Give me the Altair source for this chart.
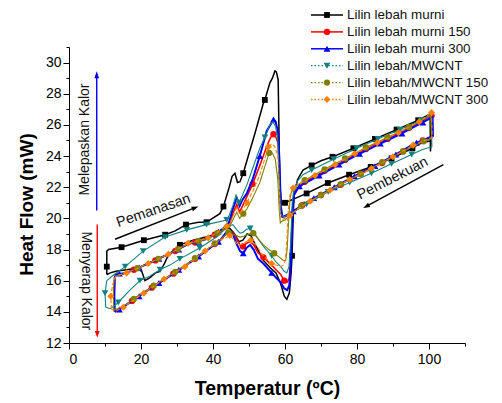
import altair as alt
import pandas as pd

# ---------------- data ----------------
x_ticks = [0, 10, 20, 30, 40, 50, 60, 70, 80, 90, 100, 110]
y_ticks = [12, 13, 14, 15, 16, 17, 18, 19, 20, 21, 22, 23, 24, 25, 26, 27, 28, 29, 30, 31]

names = ["Lilin lebah murni", "Lilin lebah murni 150", "Lilin lebah murni 300",
         "Lilin lebah/MWCNT", "Lilin lebah/MWCNT 150", "Lilin lebah/MWCNT 300"]

black_path = [(10.5,16.4),(11.5,16.5),(13,16.6),(16,16.7),(18.8,16.8),(20.2,16.6),(21.1,16.0),(22.5,16.2),
    (24,16.5),(25.3,16.6),(26.5,17.1),(27.6,17.65),(30.8,18.3),(34.5,18.6),(38,18.8),(41,19.0),(43,19.3),
    (44.5,19.4),(46,19.0),(47.2,18.5),(48.3,18.6),(49.5,19.0),(50.5,18.9),(52,18.2),(54,17.3),(56,16.8),
    (57.5,16.5),(58.8,15.8),(59.8,15.0),(60.5,14.8),(61.2,15.2),(61.7,16.5),(61.95,17.6),(62.2,19.5),
    (62.5,21.5),(63.5,22.5),(65,23.1),(67.4,23.4),(70,23.7),(73.2,23.95),(79,24.5),(85,25.1),(91,25.7),
    (97,26.3),(100.3,26.7),(100.4,24.3),(100.6,25.0),(97,24.75),(95.4,24.5),(89.6,23.85),(83.8,23.3),
    (77.8,22.8),(71.9,22.27),(66,21.6),(63,21.3),(60,21.0),(59,20.9),(58.5,22.5),(58.3,26.0),(58.1,28.9),
    (57.6,29.4),(57.2,29.46),(56.5,29.0),(55.8,28.7),(54.4,27.6),(54,27.4),(51.7,25.5),(49.8,24.0),
    (48.4,22.9),(47.5,22.35),(46.8,22.3),(46.1,22.9),(45.3,22.7),(44.5,22.0),(42.9,20.76),(41.9,20.3),
    (39.2,19.9),(38.2,19.75),(36,19.75),(32.5,19.6),(29.5,19.2),(26.7,18.95),(20.8,18.6),(14.6,18.15),
    (11,18.0),(10.5,17.9),(10.5,16.4)]
black_marks = [(10.5,16.9),(14.6,18.15),(20.8,18.6),(26.7,18.95),(32.5,19.6),(38.2,19.75),(42.9,20.76),
    (48.4,22.9),(54.4,27.6),(30.8,18.3),(60,21.0),(61.95,17.6),(67.4,23.4),(73.2,23.95),(79,24.5),
    (85,25.1),(91,25.7),(97,26.3),(66,21.6),(71.9,22.27),(77.8,22.8),(83.8,23.3),(89.6,23.85),(95.4,24.5)]

red_path = [(12.7,14.0),(15,14.3),(20,15.1),(26,16.0),(32,16.9),(38,17.9),(42,18.6),(44,19.1),(45.5,19.1),
    (46.5,18.7),(47.5,18.3),(48.3,18.2),(49.3,18.4),(50.3,18.5),(51.3,18.3),(52.5,17.8),(54,17.5),(56.3,17.0),
    (57.5,16.7),(58.8,16.4),(59.8,16.0),(60.6,15.9),(61.2,16.2),(61.7,18.0),(62.1,20.5),(62.5,21.5),
    (63.5,21.95),(65,22.3),(68.3,22.7),(73.9,23.4),(79.4,24.1),(85.6,24.8),(91.5,25.45),(97.3,26.15),
    (100.7,26.6),(100.9,25.2),(95.6,24.7),(90,23.95),(84,23.2),(78,22.5),(72.5,21.8),(67,21.1),(63.5,20.6),
    (61.5,20.3),(60,20.1),(59.2,20.1),(58.9,20.5),(58.5,22.5),(58.1,24.8),(57.5,25.2),(56.8,25.4),(56,25.2),
    (54.9,24.6),(53,23.4),(51,22.2),(49.4,21.4),(48.4,20.9),(47.4,20.4),(46.6,20.9),(45.5,20.3),(44.5,19.6),
    (43.8,19.45),(38.7,18.75),(33.1,18.35),(27.6,17.7),(22,17.1),(16,16.5),(13,16.35),(12.7,16.1),
    (12.5,15.0),(12.7,14.0)]
red_marks = [(18,16.7),(24,17.3),(29.5,17.9),(35,18.45),(40.5,18.95),(17.5,14.7),(23,15.55),(29,16.45),
    (35,17.4),(40.5,18.35),(48.3,18.2),(54,17.5),(59.8,16.0),(56.8,25.4),(51,22.2),(65.5,22.35),(71,23.05),
    (76.7,23.75),(82.5,24.45),(88.5,25.1),(94.4,25.8),(100.7,26.6),(64.8,20.85),(70,21.5),(75.5,22.15),
    (81,22.85),(87,23.55),(92.8,24.3),(98.3,25.0)]

blue_path = [(12.7,14.0),(15,14.3),(20,15.1),(26,16.0),(32,16.9),(38,17.9),(42,18.6),(44,19.2),(45.5,19.0),
    (46.5,18.4),(47.5,17.9),(48.4,17.76),(49.3,18.1),(50.3,18.3),(51.3,18.0),(52.5,17.4),(54,17.1),(56.3,16.5),
    (57.5,16.2),(58.8,15.9),(59.8,15.5),(60.6,15.4),(61.2,15.7),(61.7,17.5),(62.1,20.5),(62.5,21.5),
    (63.5,21.9),(65,22.2),(68.3,22.6),(73.9,23.3),(79.4,24.0),(85.6,24.7),(91.5,25.35),(97.3,26.05),
    (101,26.5),(101.1,25.3),(95.6,24.75),(90,24.0),(84,23.25),(78,22.55),(72.5,21.85),(67,21.15),
    (63.5,20.65),(61.5,20.35),(60,20.15),(59.3,20.1),(58.8,20.8),(58.5,23.5),(58.1,25.5),(57.4,26.2),
    (56.8,26.35),(56.2,26.1),(54.9,25.6),(53,24.0),(51,22.5),(49.4,21.6),(48.2,21.2),(47.4,20.8),(46.6,21.3),
    (45.5,20.6),(44.5,19.8),(43.8,19.5),(38.7,18.7),(33.1,18.35),(27.6,17.7),(22,17.1),(16,16.5),(13,16.4),
    (12.7,16.2),(12.6,15.0),(12.7,14.0)]
blue_marks = [(14,16.45),(19.5,16.85),(25,17.4),(30.5,18.0),(36,18.5),(41.5,19.15),(14,14.15),(19.5,15.0),
    (25,15.85),(30.5,16.7),(36,17.55),(41.5,18.5),(48.4,17.76),(56.3,16.5),(56.8,26.35),(53,24.0),
    (64,22.05),(69.5,22.75),(75,23.45),(80.7,24.15),(86.5,24.8),(92.5,25.45),(98.3,26.15),(62.3,20.45),
    (68,21.3),(73.7,22.0),(79.3,22.7),(85,23.35),(90.8,24.1),(96.5,24.85)]

teal_path = [(10.2,14.3),(11.5,14.2),(13.7,14.6),(16.5,15.3),(19.7,16.0),(22.5,16.3),(25.3,16.7),(28,17.0),
    (30.8,17.4),(36.3,18.1),(41,18.8),(43.3,19.3),(44.5,19.5),(45.5,19.6),(46.5,19.3),(47.5,19.05),(48.3,19.1),
    (49.3,19.3),(50.3,19.35),(51.3,19.1),(52.5,18.7),(54,18.2),(56.3,17.6),(57.5,17.2),(58.8,16.9),(59.8,16.6),
    (60.5,16.5),(61.1,16.9),(61.6,18.5),(62,21.0),(62.4,21.8),(63.5,22.4),(65,22.8),(67.4,23.1),(73.5,23.8),
    (79.9,24.5),(85.8,25.1),(91.9,25.7),(97.8,26.3),(100.6,26.7),(100.8,24.6),(98,24.4),(95.2,24.1),
    (89.6,23.5),(84,22.9),(78,22.3),(72,21.7),(66,20.9),(63,20.5),(61,20.2),(59.5,20.1),(58.8,20.3),
    (58.4,22.5),(58.0,25.0),(57.4,25.9),(56.6,26.2),(55.8,26.0),(54.4,25.2),(53,24.5),(51,23.2),(49.5,22.2),
    (48.2,21.5),(47.2,21.0),(46.4,21.5),(45.5,20.8),(44.5,20.2),(43.8,19.9),(38.2,19.6),(32.7,19.26),
    (26.7,18.8),(20.6,17.9),(15.6,16.9),(12,16.3),(10.5,16.0),(10,15.2),(10.2,14.3)]
teal_marks = [(15.6,16.9),(20.6,17.9),(26.7,18.8),(32.7,19.26),(38.2,19.6),(43.8,19.9),(10,15.2),(13.7,14.6),
    (19.7,16.0),(25.3,16.7),(30.8,17.4),(36.3,18.1),(50.3,19.35),(56.3,17.6),(54.4,25.2),(47.2,21.0),
    (62.4,21.8),(67.4,23.1),(73.5,23.8),(79.9,24.5),(85.8,25.1),(91.9,25.7),(97.8,26.3),(66,20.9),(72,21.7),
    (78,22.3),(84,22.9),(89.6,23.5),(95.2,24.1)]

olive_path = [(12.5,14.1),(15,14.35),(20,15.15),(26,16.05),(32,16.95),(38,17.95),(42,18.65),(44.3,19.1),
    (45.5,19.0),(46.5,18.9),(47.5,18.8),(48.5,18.85),(50,19.0),(51.2,19.05),(52.5,18.7),(54,18.3),(55.5,18.0),
    (57,17.76),(58.5,17.5),(59.5,17.3),(60.2,17.3),(60.6,18.0),(61,19.8),(61.4,21.3),(62,21.9),(63.5,22.15),
    (65.5,22.45),(71,23.15),(76.7,23.85),(82.5,24.55),(88.5,25.2),(94.4,25.85),(100.5,26.6),(100.7,25.1),
    (98.5,24.95),(92.8,24.3),(87,23.6),(81,22.85),(75.5,22.2),(70,21.5),(64.5,20.8),(62,20.3),(60,19.9),
    (59,19.8),(58.7,19.7),(58.4,20.5),(58,22.5),(57.3,23.8),(56.5,24.2),(55.6,24.2),(54.5,23.4),(53,22.3),
    (51,21.3),(49.4,20.6),(48.4,20.3),(47.4,20.0),(46.6,20.4),(45.5,19.9),(44.5,19.4),(43.8,19.4),
    (38.7,18.7),(33.1,18.35),(27.6,17.7),(22,17.1),(16,16.5),(13,16.3),(12.5,16.0),(12.3,15.0),(12.5,14.1)]
olive_marks = [(19,16.8),(24.8,17.4),(30.3,18.02),(36,18.53),(41.3,19.06),(18,14.83),(23.5,15.68),
    (29.5,16.57),(35,17.45),(40.5,18.4),(44.3,19.1),(51.2,19.05),(57,17.76),(55.6,24.2),(48.4,20.3),
    (65.5,22.45),(71,23.15),(76.7,23.85),(82.5,24.55),(88.5,25.2),(94.4,25.85),(64.5,20.8),(70,21.5),
    (75.5,22.2),(81,22.85),(87,23.6),(92.8,24.3),(98.5,24.95)]

orange_path = [(11.8,14.2),(12.7,14.0),(15.1,14.3),(20.8,15.2),(26.4,16.1),(32.2,16.9),(37.8,17.9),(42,18.6),
    (44.7,18.9),(45.5,18.7),(46.5,18.4),(47.5,18.3),(48.5,18.4),(50,18.6),(51,18.6),(52.5,18.1),(54,17.6),
    (56.3,17.1),(57.5,17.0),(58.8,16.9),(59.5,17.0),(60.1,17.3),(60.5,18.5),(60.9,20.5),(61.4,21.5),
    (62.3,21.95),(65,22.35),(68.3,22.75),(73.9,23.45),(79.4,24.15),(85.6,24.85),(91.5,25.5),(97.3,26.2),
    (100.7,26.8),(100.9,25.2),(95.6,24.7),(90,23.95),(84,23.2),(78,22.5),(72.5,21.8),(67,21.1),(63.5,20.6),
    (61.4,20.2),(60,20.0),(59,19.9),(58.7,20.0),(58.4,22.0),(58,24.0),(57.2,24.6),(56.3,24.8),(55.4,24.6),
    (54.5,23.9),(53,22.8),(51,21.7),(49.4,21.0),(48.4,20.6),(47.4,20.3),(46.6,20.7),(45.5,20.1),(44.5,19.6),
    (43.8,19.5),(38.7,18.75),(33.1,18.4),(27.6,17.7),(22,17.1),(16,16.5),(13,16.3),(12.2,15.8),(11.6,15.0),
    (11.8,14.2)]
orange_marks = [(11.6,15.0),(16,16.5),(22,17.1),(27.6,17.7),(33.1,18.4),(38.7,18.75),(43.8,19.5),(15.1,14.3),
    (20.8,15.2),(26.4,16.1),(32.2,16.9),(37.8,17.9),(44.7,18.9),(50.5,18.6),(56.3,17.1),(55.4,24.6),
    (49.4,21.0),(62.3,21.95),(68.3,22.75),(73.9,23.45),(79.4,24.15),(85.6,24.85),(91.5,25.5),(97.3,26.2),
    (100.7,26.8),(61.4,20.2),(67,21.1),(72.5,21.8),(78,22.5),(84,23.2),(90,23.95),(95.6,24.7)]

ann_labels = ["Melepaskan Kalor", "Menyerap Kalor", "Pemanasan", "Pembekuan"]
ann_T = [4.44, 4.67, 23.5, 89.9]
ann_HF = [25.06, 15.99, 20.48, 22.55]

arrow_T1 = [7.7, 7.85, 12.78, 104.0]
arrow_HF1 = [20.5, 19.6, 18.66, 23.45]
arrow_T2 = [7.7, 7.85, 34.9, 82.7]
arrow_HF2 = [29.18, 12.59, 20.67, 20.78]

# ---------------- styling ----------------
FONT = "Liberation Sans"
XS = alt.Scale(domain=[0, 110], nice=False, zero=False)
YS = alt.Scale(domain=[12, 31], nice=False, zero=False)

X_AXIS = alt.Axis(
    title="Temperatur (ºC)", values=x_ticks,
    labelExpr="datum.value % 20 === 0 ? datum.label : ''",
    tickSize={"condition": {"test": "datum.value % 20 === 0", "value": 6}, "value": 3},
    grid=False, domainColor="black", tickColor="black", labelColor="black",
    labelFont=FONT, labelFontSize=14, labelPadding=3,
    titleFont=FONT, titleFontSize=19.5, titleFontWeight="bold", titleColor="black", titlePadding=13)
Y_AXIS = alt.Axis(
    title="Heat Flow (mW)", values=y_ticks,
    labelExpr="datum.value % 2 === 0 ? datum.label : ''",
    tickSize={"condition": {"test": "datum.value % 2 === 0", "value": 6}, "value": 3},
    grid=False, domainColor="black", tickColor="black", labelColor="black",
    labelFont=FONT, labelFontSize=14, labelPadding=2,
    titleFont=FONT, titleFontSize=19, titleFontWeight="bold", titleColor="black", titlePadding=9,
    titleY=157)


def X(f):
    return alt.X(f, type="quantitative", scale=XS, axis=X_AXIS)


def Y(f):
    return alt.Y(f, type="quantitative", scale=YS, axis=Y_AXIS)


def series(path, marks, color, width, dash, shape, size):
    df = pd.DataFrame(path, columns=["T", "HF"])
    df["i"] = range(len(df))
    mdf = pd.DataFrame(marks, columns=["T", "HF"])
    kw = dict(color=color, strokeWidth=width)
    if dash:
        kw["strokeDash"] = dash
    line = alt.Chart(df).mark_line(**kw).encode(x=X("T"), y=Y("HF"), order="i:Q")
    pts = alt.Chart(mdf).mark_point(shape=shape, filled=True, size=size, color=color,
                                    opacity=1).encode(x=X("T"), y=Y("HF"))
    return [line, pts]


styles = [
    dict(color="#000000", width=1.5, dash=None, shape="square", size=34),
    dict(color="#FF0000", width=1.6, dash=None, shape="circle", size=40),
    dict(color="#0000FF", width=2.0, dash=None, shape="triangle-up", size=46),
    dict(color="#118080", width=1.1, dash=None, shape="triangle-down", size=46),
    dict(color="#808000", width=1.1, dash=None, shape="circle", size=40),
    dict(color="#FF8000", width=1.1, dash=[4, 2], shape="diamond", size=50),
]
paths = [black_path, red_path, blue_path, teal_path, olive_path, orange_path]
marks = [black_marks, red_marks, blue_marks, teal_marks, olive_marks, orange_marks]

layers = []
for p, m, s in zip(paths, marks, styles):
    layers += series(p, m, **s)

# arrows
HEAD = "M0,-1L0.6,0.7L-0.6,0.7Z"
arrow_colors = ["#0000FF", "#FF0000", "#000000", "#000000"]
head_angles = [0, 180, 68.6, 241.6]
for k in range(4):
    adf = pd.DataFrame({"x1": [arrow_T1[k]], "y1": [arrow_HF1[k]],
                        "x2": [arrow_T2[k]], "y2": [arrow_HF2[k]]})
    layers.append(alt.Chart(adf).mark_rule(color=arrow_colors[k], strokeWidth=1.4).encode(
        x=X("x1"), y=Y("y1"), x2="x2:Q", y2="y2:Q"))
    layers.append(alt.Chart(adf).mark_point(shape=HEAD, filled=True, size=64, opacity=1,
                                            color=arrow_colors[k], angle=head_angles[k]).encode(
        x=X("x2"), y=Y("y2")))

# annotation texts
ann_angles = [270, 90, 341, 333]
ann_sizes = [14, 14, 14.5, 14.5]
for k in range(4):
    tdf = pd.DataFrame({"T": [ann_T[k]], "HF": [ann_HF[k]], "label": [ann_labels[k]]})
    layers.append(alt.Chart(tdf).mark_text(font=FONT, fontSize=ann_sizes[k], color="#111111",
                                           angle=ann_angles[k], align="center", baseline="middle").encode(
        x=X("T"), y=Y("HF"), text="label:N"))

# manual legend (pixel offsets relative to the plot area)
leg_y = [-32, -15.1, 1.8, 18.7, 35.6, 52.5]
leg_dash = [None, None, None, [1.5, 2], [1.5, 2], [1.5, 2]]
for k in range(6):
    s = styles[k]
    ldf = pd.DataFrame({"label": [names[k]]})
    kw = dict(color=s["color"], strokeWidth=1.5 if k < 3 else 1.3)
    if leg_dash[k]:
        kw["strokeDash"] = leg_dash[k]
    layers.append(alt.Chart(ldf).mark_rule(**kw).encode(
        x=alt.value(242), x2=alt.value(274), y=alt.value(leg_y[k])))
    layers.append(alt.Chart(ldf).mark_point(shape=s["shape"], filled=True, size=s["size"],
                                            color=s["color"], opacity=1).encode(
        x=alt.value(258), y=alt.value(leg_y[k])))
    layers.append(alt.Chart(ldf).mark_text(font=FONT, fontSize=13.4, color="#111111", align="left",
                                           baseline="middle").encode(
        x=alt.value(278), y=alt.value(leg_y[k]), text="label:N"))

chart = alt.layer(*layers).properties(
    width=396, height=296,
    autosize=alt.AutoSizeParams(type="none"),
    padding={"left": 61, "top": 39, "right": 28, "bottom": 57},
).configure_view(stroke=None)

chart.save("out.html", embed_options={"renderer": "svg", "actions": False})
